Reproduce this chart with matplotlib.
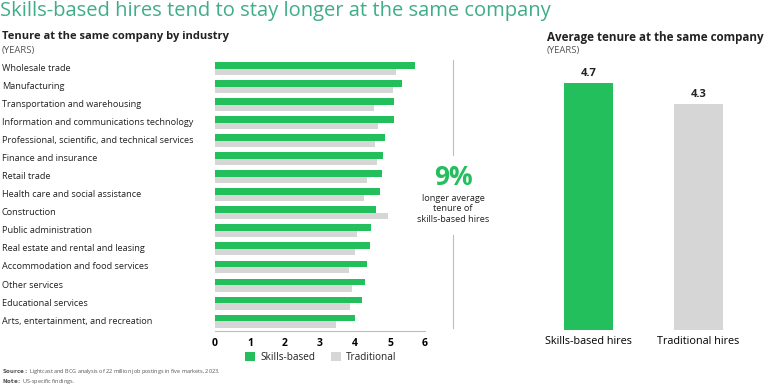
import matplotlib
matplotlib.use("Agg")
import matplotlib.pyplot as plt
import matplotlib.transforms as mtransforms
from matplotlib.lines import Line2D
from matplotlib.patches import Patch
import numpy as np

# ---------------- data ----------------
industries = [
    "Wholesale trade",
    "Manufacturing",
    "Transportation and warehousing",
    "Information and communications technology",
    "Professional, scientific, and technical services",
    "Finance and insurance",
    "Retail trade",
    "Health care and social assistance",
    "Construction",
    "Public administration",
    "Real estate and rental and leasing",
    "Accommodation and food services",
    "Other services",
    "Educational services",
    "Arts, entertainment, and recreation",
]
skills_based = [5.70, 5.35, 5.11, 5.10, 4.87, 4.79, 4.78, 4.70,
                4.61, 4.47, 4.42, 4.34, 4.29, 4.19, 3.99]
traditional = [5.16, 5.08, 4.55, 4.66, 4.58, 4.62, 4.35, 4.27,
               4.93, 4.05, 4.01, 3.84, 3.90, 3.87, 3.45]
x_ticks = [0, 1, 2, 3, 4, 5, 6]

avg_labels = ["Skills-based hires", "Traditional hires"]
avg_values = [4.7, 4.3]

# ---------------- style ----------------
GREEN = "#22BF5C"
GRAY = "#D6D6D6"
TITLE = "#3FAD87"
TEXT = "#222222"
MUTED = "#555555"
LINE = "#BDBDBD"
FONT = "Open Sans"

plt.rcParams.update({
    "font.family": [FONT, "DejaVu Sans"],
    "font.size": 7,
    "text.color": TEXT,
})

W, H = 768, 385
fig = plt.figure(figsize=(W / 100, H / 100), dpi=100, facecolor="white")


def fx(px):
    return px / W


def fy(py):
    return 1 - py / H


# titles
fig.text(fx(0), fy(11), "Skills-based hires tend to stay longer at the same company",
         fontsize=14.5, color=TITLE, va="center", ha="left")
fig.text(fx(2), fy(37), "Tenure at the same company by industry",
         fontsize=8, fontweight="bold", va="center", ha="left")
fig.text(fx(2), fy(50), "(YEARS)", fontsize=6.8, color=MUTED, va="center", ha="left")
fig.text(fx(547), fy(37), "Average tenure at the same company",
         fontsize=8.4, fontweight="bold", va="center", ha="left")
fig.text(fx(547), fy(50), "(YEARS)", fontsize=6.8, color=MUTED, va="center", ha="left")

# ---------------- left: industry bars ----------------
ax = fig.add_axes([fx(215), fy(331), fx(425) - fx(215), (331 - 60) / H])
y = np.arange(len(industries))
bh = 0.36
ax.barh(y - bh / 2, skills_based, height=bh, color=GREEN, label="Skills-based")
ax.barh(y + bh / 2, traditional, height=bh, color=GRAY, label="Traditional")
ax.set_xlim(0, 6)
ax.set_ylim(len(industries) - 0.45, -0.48)
ax.set_xticks(x_ticks)
ax.set_xticklabels([str(t) for t in x_ticks], fontweight="bold", fontsize=7.5)
ax.tick_params(axis="x", length=0, pad=5)
ax.set_yticks([])
for s in ["top", "right", "left"]:
    ax.spines[s].set_visible(False)
ax.spines["bottom"].set_color(LINE)
ax.spines["bottom"].set_linewidth(0.8)

lab_tr = mtransforms.blended_transform_factory(fig.transFigure, ax.transData)
for i, name in enumerate(industries):
    ax.text(fx(2), i, name, transform=lab_tr, ha="left", va="center",
            fontsize=6.6, color=TEXT, clip_on=False)

fig.legend(
    handles=[Patch(facecolor=GREEN, label="Skills-based"),
             Patch(facecolor=GRAY, label="Traditional")],
    loc="center", bbox_to_anchor=(fx(321), fy(357)), ncol=2, frameon=False,
    fontsize=7.2, handlelength=1.0, handleheight=1.0, columnspacing=1.6,
    handletextpad=0.5,
)

# separator with callout
fig.add_artist(Line2D([fx(453), fx(453)], [fy(60), fy(155)], color=LINE, lw=0.8))
fig.add_artist(Line2D([fx(453), fx(453)], [fy(235), fy(328)], color=LINE, lw=0.8))
diff_pct = round((avg_values[0] / avg_values[1] - 1) * 100)
fig.text(fx(453), fy(177), f"{diff_pct}%", fontsize=19, fontweight="bold",
         color=GREEN, ha="center", va="center")
fig.text(fx(453), fy(209), "longer average\ntenure of\nskills-based hires",
         fontsize=6.6, ha="center", va="center", linespacing=1.25)

# ---------------- right: average bars ----------------
ax2 = fig.add_axes([fx(533.5), fy(330), (753.5 - 533.5) / W, (330 - 67) / H])
xb = np.arange(len(avg_values))
ax2.bar(xb, avg_values, width=0.44, color=[GREEN, GRAY])
ax2.set_xlim(-0.5, 1.5)
ax2.set_ylim(0, 5)
ax2.set_xticks(xb)
ax2.set_xticklabels(avg_labels, fontsize=7.8)
ax2.tick_params(axis="x", length=0, pad=4)
ax2.set_yticks([])
for s in ax2.spines.values():
    s.set_visible(False)
for xi, v in zip(xb, avg_values):
    ax2.annotate(f"{v:.1f}", (xi, v), xytext=(0, 3), textcoords="offset points",
                 ha="center", va="bottom", fontsize=8, fontweight="bold")

# footer
fig.text(fx(2), fy(372), r"$\bf{Source:}$ Lightcast and BCG analysis of 22 million job postings in five markets, 2023.",
         fontsize=4.0, color=MUTED, va="center", ha="left")
fig.text(fx(2), fy(381), r"$\bf{Note:}$ US-specific findings.",
         fontsize=4.0, color=MUTED, va="center", ha="left")

fig.savefig("out.png", dpi=100, facecolor="white")
